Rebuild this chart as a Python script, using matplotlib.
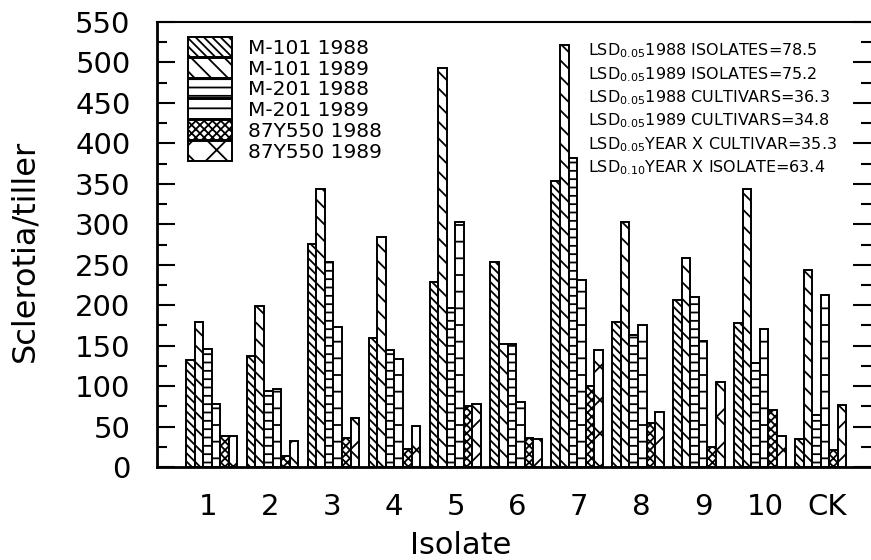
import matplotlib
matplotlib.use('Agg')
import matplotlib.pyplot as plt
import numpy as np
from matplotlib.ticker import MultipleLocator

# ---- data ----
isolates = ['1', '2', '3', '4', '5', '6', '7', '8', '9', '10', 'CK']
series_labels = ['M-101 1988', 'M-101 1989', 'M-201 1988',
                 'M-201 1989', '87Y550 1988', '87Y550 1989']
m101_1988 = [132, 137, 276, 159, 229, 253, 353, 179, 207, 178, 34]
m101_1989 = [179, 199, 343, 284, 493, 152, 522, 303, 258, 343, 244]
m201_1988 = [146, 94, 253, 144, 196, 152, 382, 163, 210, 128, 64]
m201_1989 = [78, 96, 173, 133, 303, 80, 231, 175, 156, 171, 213]
y550_1988 = [38, 14, 36, 22, 76, 36, 100, 55, 25, 70, 21]
y550_1989 = [38, 32, 60, 51, 78, 35, 145, 68, 105, 38, 77]

lsd_sub = ['0.05', '0.05', '0.05', '0.05', '0.05', '0.10']
lsd_desc = ['1988 ISOLATES', '1989 ISOLATES', '1988 CULTIVARS',
            '1989 CULTIVARS', 'YEAR X CULTIVAR', 'YEAR X ISOLATE']
lsd_val = ['78.5', '75.2', '36.3', '34.8', '35.3', '63.4']

series = [m101_1988, m101_1989, m201_1988, m201_1989, y550_1988, y550_1989]

# ---- style ----
plt.rcParams['font.family'] = ['DejaVu Sans']
plt.rcParams['mathtext.default'] = 'regular'
plt.rcParams['hatch.color'] = 'black'
plt.rcParams['hatch.linewidth'] = 1.3

hatches = ['\\\\\\\\', '\\\\', '--', '-', 'xxxx', 'x']

W, H = 871, 560
fig = plt.figure(figsize=(W / 100, H / 100), dpi=100)
ax_left, ax_right, ax_top, ax_bot = 157, 871, 22, 467
ax = fig.add_axes([ax_left / W, (H - ax_bot) / H,
                   (ax_right - ax_left) / W, (ax_bot - ax_top) / H])

x = np.arange(len(isolates))
bw = 0.141
handles = []
for j, (vals, lab, h) in enumerate(zip(series, series_labels, hatches)):
    bars = ax.bar(x + (j - 2.5) * bw, vals, width=bw, facecolor='white',
                  edgecolor='black', linewidth=1.4, hatch=h, label=lab)
    handles.append(bars)

ax.set_ylim(0, 550)
ax.set_xlim(-0.898, 10.826)

ax.yaxis.set_major_locator(MultipleLocator(50))
ax.yaxis.set_minor_locator(MultipleLocator(25))
ax.tick_params(axis='y', which='major', direction='in', length=13, width=1.5,
               labelsize=21, pad=19, right=True)
ax.tick_params(axis='y', which='minor', direction='in', length=7, width=1.5,
               right=True)

tick_pos = np.linspace(-0.06, 10.10, len(isolates))
ax.set_xticks(tick_pos)
ax.set_xticklabels(isolates)
ax.tick_params(axis='x', length=0, labelsize=21, pad=18.5)

for s in ['left', 'bottom']:
    ax.spines[s].set_linewidth(2.0)
ax.spines['top'].set_linewidth(1.5)
ax.spines['right'].set_visible(False)

ax.set_ylabel('Sclerotia/tiller', fontsize=23, va='center')
ax.yaxis.set_label_coords(-0.185, 0.485)
ax.set_xlabel('Isolate', fontsize=22, va='center')
ax.xaxis.set_label_coords(0.426, -0.176)

fs_leg = 14.5
fs_px = fs_leg * 100 / 72
ax.legend(handles=handles, loc='upper left',
          bbox_to_anchor=(188 / W, 1 - 37 / H), bbox_transform=fig.transFigure,
          frameon=False, fontsize=fs_leg, labelspacing=0, borderpad=0,
          borderaxespad=0, handlelength=44 / fs_px, handleheight=23 / fs_px,
          handletextpad=16 / fs_px)

baselines = [55, 79, 102, 125, 149, 172]
for sub, desc, val, yb in zip(lsd_sub, lsd_desc, lsd_val, baselines):
    fig.text(588 / W, 1 - yb / H, 'LSD$_{%s}$%s=%s' % (sub, desc, val),
             fontsize=11.5, va='baseline', ha='left')

fig.savefig('out.png', dpi=100)
